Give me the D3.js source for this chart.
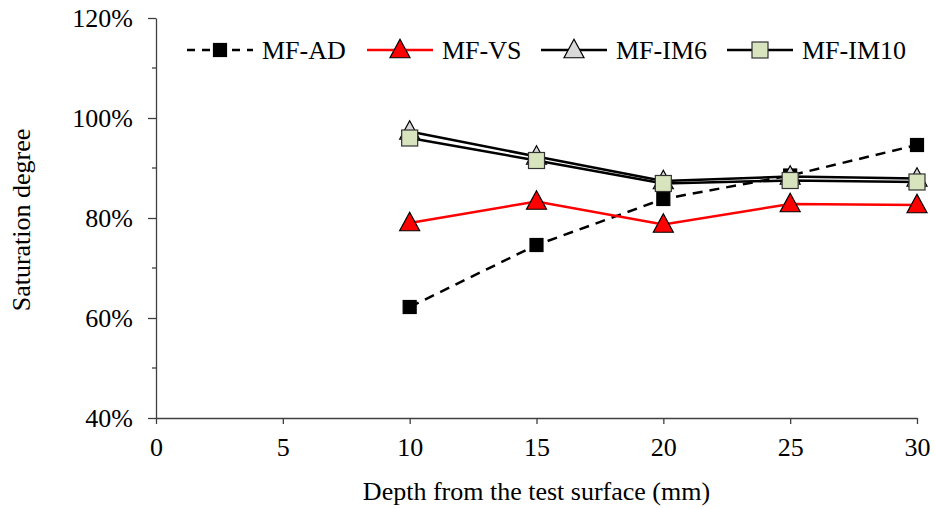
<!DOCTYPE html>
<html>
<head>
<meta charset="utf-8">
<script src="https://d3js.org/d3.v7.min.js"></script>
<style>
  body { margin: 0; background: #fff; }
  text { font-family: "Liberation Serif", "Times New Roman", serif; fill: #000; }
</style>
</head>
<body>
<script>
  // depth (mm)
  var depths = [10, 15, 20, 25, 30];
  // saturation degree (%)
  var mfAD   = [62.2, 74.6, 83.8, 88.5, 94.6];
  var mfVS   = [79.0, 83.3, 78.7, 82.8, 82.6];
  var mfIM6  = [97.3, 92.3, 87.4, 88.3, 87.9];
  var mfIM10 = [96.0, 91.5, 86.9, 87.5, 87.2];
  var xTicks = [0, 5, 10, 15, 20, 25, 30];
  var yTicks = [40, 60, 80, 100, 120];
  var yMinor = [50, 70, 90, 110];

  var series = [
    {name: "MF-AD",   values: mfAD,   color: "#000", dash: "10,7", marker: "square", fill: "#000", mstroke: "#000", size: 13},
    {name: "MF-VS",   values: mfVS,   color: "#ff0000", dash: null, marker: "triangle", fill: "#ff0000", mstroke: "#000", size: 20},
    {name: "MF-IM6",  values: mfIM6,  color: "#000", dash: null, marker: "triangle", fill: "#d9d9d9", mstroke: "#000", size: 20},
    {name: "MF-IM10", values: mfIM10, color: "#000", dash: null, marker: "square", fill: "#d7e4bd", mstroke: "#333", size: 16}
  ];

  var W = 935, H = 509;
  var pLeft = 156, pRight = 917, pTop = 18, pBottom = 418;
  var fs = "26px";

  var svg = d3.select("body").append("svg")
      .attr("width", W).attr("height", H);

  var x = d3.scaleLinear().domain([0, 30]).range([pLeft, pRight]);
  var y = d3.scaleLinear().domain([40, 120]).range([pBottom, pTop]);

  var axisColor = "#404040";

  // y axis
  var yAxis = svg.append("g")
      .attr("transform", "translate(" + pLeft + ",0)")
      .call(d3.axisLeft(y).tickValues(yTicks).tickSize(8).tickSizeOuter(0)
        .tickFormat(function (d) { return d + "%"; }));
  yAxis.select(".domain").attr("stroke", axisColor).attr("stroke-width", 1.3);
  yAxis.selectAll(".tick line").attr("stroke", axisColor).attr("stroke-width", 1.3);
  yAxis.selectAll(".tick text")
      .attr("x", -23)
      .style("font-family", "Liberation Serif")
      .style("font-size", fs).attr("fill", "#000");
  svg.append("g").selectAll("line").data(yMinor).enter().append("line")
      .attr("x1", pLeft - 4).attr("x2", pLeft)
      .attr("y1", function (d) { return y(d); })
      .attr("y2", function (d) { return y(d); })
      .attr("stroke", axisColor).attr("stroke-width", 1.3);

  // x axis
  var xAxis = svg.append("g")
      .attr("transform", "translate(0," + pBottom + ")")
      .call(d3.axisBottom(x).tickValues(xTicks).tickSize(6).tickSizeOuter(0));
  xAxis.select(".domain").attr("stroke", axisColor).attr("stroke-width", 1.3);
  xAxis.selectAll(".tick line").attr("stroke", axisColor).attr("stroke-width", 1.3);
  xAxis.selectAll(".tick text")
      .attr("y", 20)
      .style("font-family", "Liberation Serif")
      .style("font-size", fs).attr("fill", "#000");

  // axis titles
  svg.append("text")
      .attr("x", (pLeft + pRight) / 2).attr("y", 500)
      .attr("text-anchor", "middle")
      .style("font-size", fs)
      .text("Depth from the test surface (mm)");
  svg.append("text")
      .attr("transform", "translate(30," + ((pTop + pBottom) / 2 + 2) + ") rotate(-90)")
      .attr("text-anchor", "middle")
      .style("font-size", fs)
      .text("Saturation degree");

  function drawMarker(g, s, cx, cy) {
    if (s.marker === "square") {
      g.append("rect")
        .attr("x", cx - s.size / 2).attr("y", cy - s.size / 2)
        .attr("width", s.size).attr("height", s.size)
        .attr("fill", s.fill).attr("stroke", s.mstroke).attr("stroke-width", 1.2);
    } else {
      var h = s.size * 0.92, w = s.size;
      g.append("path")
        .attr("d", "M" + cx + "," + (cy - h * 0.58) +
                   "L" + (cx + w / 2) + "," + (cy + h * 0.42) +
                   "L" + (cx - w / 2) + "," + (cy + h * 0.42) + "Z")
        .attr("fill", s.fill).attr("stroke", s.mstroke).attr("stroke-width", 1.2);
    }
  }

  var line = d3.line()
      .x(function (d, i) { return x(depths[i]); })
      .y(function (d) { return y(d); });

  series.forEach(function (s) {
    var g = svg.append("g");
    g.append("path")
      .attr("d", line(s.values))
      .attr("fill", "none")
      .attr("stroke", s.color)
      .attr("stroke-width", 2.5)
      .attr("stroke-dasharray", s.dash);
    s.values.forEach(function (v, i) {
      drawMarker(g, s, x(depths[i]), y(v));
    });
  });

  // legend
  var legendPos = [187, 367, 541, 727];
  var legY = 50;
  series.forEach(function (s, i) {
    var lx = legendPos[i];
    var g = svg.append("g");
    g.append("line")
      .attr("x1", lx).attr("x2", lx + 66)
      .attr("y1", legY).attr("y2", legY)
      .attr("stroke", s.color).attr("stroke-width", 2.5)
      .attr("stroke-dasharray", s.dash ? "8,7" : null);
    drawMarker(g, s, lx + 33, legY);
    g.append("text")
      .attr("x", lx + 75).attr("y", legY + 9)
      .style("font-size", fs)
      .text(s.name);
  });
</script>
</body>
</html>
